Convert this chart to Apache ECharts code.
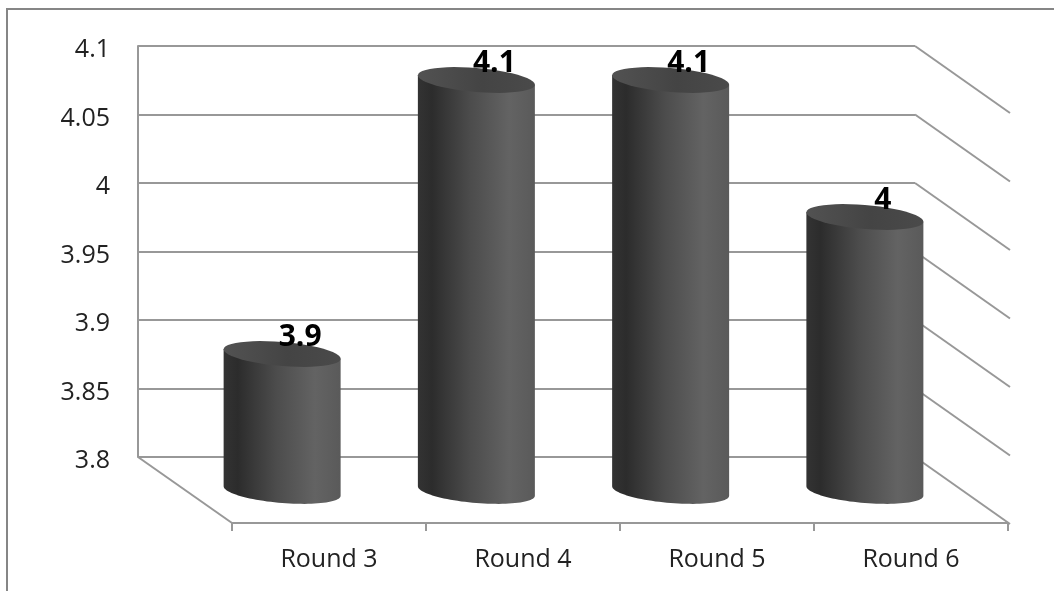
<!DOCTYPE html>
<html>
<head>
<meta charset="utf-8">
<style>html,body{margin:0;padding:0;background:#fff}#c{width:1054px;height:591px}</style>
<script src="https://cdn.jsdelivr.net/npm/echarts@6/dist/echarts.min.js"></script>
</head>
<body>
<div id="c"></div>
<script>
var categories = ['Round 3', 'Round 4', 'Round 5', 'Round 6'];
var values = [3.9, 4.1, 4.1, 4];
var yMin = 3.8, yMax = 4.1, yStep = 0.05;
var yTicks = [3.8, 3.85, 3.9, 3.95, 4, 4.05, 4.1];

var LINE = '#989898', FONT = '"Open Sans", sans-serif';
var DEPTH_X = 95, DEPTH_Y = 67;      // wall depth
var CYL_DX = 47, CYL_DY = 34;        // cylinder sits mid-depth
var RX = 58.5, RY = 12, SHEAR = 0.08;

function ellipsePts(cx, cy, from, to) {
  var pts = [];
  for (var i = 0; i <= 48; i++) {
    var t = from + (to - from) * i / 48;
    var x = RX * Math.cos(t);
    pts.push([cx + x, cy + RY * Math.sin(t) + SHEAR * x]);
  }
  return pts;
}
function grad(stops) {
  return new echarts.graphic.LinearGradient(0, 0, 1, 0, stops.map(function (s) {
    return { offset: s[0], color: s[1] };
  }));
}

var option = {
  animation: false,
  backgroundColor: '#fff',
  textStyle: { fontFamily: FONT },
  graphic: [
    { type: 'line', silent: true, shape: { x1: 7, y1: 9, x2: 1054, y2: 9 }, style: { stroke: '#868686', lineWidth: 2 } },
    { type: 'line', silent: true, shape: { x1: 7, y1: 8, x2: 7, y2: 591 }, style: { stroke: '#868686', lineWidth: 2 } }
  ],
  grid: [
    { left: 138, top: 46, width: 777, height: 411 },
    { left: 232, top: 46, width: 776, height: 477 },
    { left: 138, top: 50, width: 777, height: 411 }
  ],
  xAxis: [
    { type: 'category', gridIndex: 0, data: categories, show: false },
    {
      type: 'category', gridIndex: 1, data: categories,
      axisLine: { show: true, lineStyle: { color: LINE, width: 2 } },
      axisTick: { show: true, length: 8, lineStyle: { color: LINE, width: 2 } },
      axisLabel: { color: '#222', fontSize: 25, fontFamily: FONT, margin: 24 }
    },
    { type: 'category', gridIndex: 2, data: categories, show: false }
  ],
  yAxis: [
    {
      type: 'value', gridIndex: 0, min: yMin, max: yMax, interval: yStep,
      axisLine: { show: true, lineStyle: { color: LINE, width: 2 } },
      axisTick: { show: false },
      axisLabel: { show: false },
      splitLine: { show: true, lineStyle: { color: LINE, width: 2 } }
    },
    { type: 'value', gridIndex: 1, min: 0, max: 1, show: false },
    {
      type: 'value', gridIndex: 2, min: yMin, max: yMax, interval: yStep,
      axisLine: { show: false },
      axisTick: { show: false },
      splitLine: { show: false },
      axisLabel: { color: '#222', fontSize: 25, fontFamily: FONT, margin: 28 }
    }
  ],
  series: [
    {
      // receding wall lines and the floor edges
      type: 'custom', xAxisIndex: 0, yAxisIndex: 0, clip: false, z: 1, silent: true,
      data: yTicks.map(function (v) { return [categories[categories.length - 1], v]; }),
      renderItem: function (params, api) {
        var plot = params.coordSys;
        var y = api.coord([0, api.value(1)])[1];
        var rx = plot.x + plot.width;
        var children = [{
          type: 'line',
          shape: { x1: rx, y1: y, x2: rx + DEPTH_X, y2: y + DEPTH_Y },
          style: { stroke: LINE, lineWidth: 2 }
        }];
        if (params.dataIndex === 0) {
          children.push({
            type: 'line',
            shape: { x1: plot.x, y1: y, x2: plot.x + DEPTH_X - 1, y2: y + DEPTH_Y - 1 },
            style: { stroke: LINE, lineWidth: 2 }
          });
        }
        return { type: 'group', children: children };
      }
    },
    {
      // cylinders and their labels
      type: 'custom', xAxisIndex: 0, yAxisIndex: 0, clip: false, z: 5, silent: true,
      data: values.map(function (v, i) { return [i, v]; }),
      renderItem: function (params, api) {
        var top = api.coord([api.value(0), api.value(1)]);
        var base = api.coord([api.value(0), yMin]);
        var cx = top[0] + CYL_DX;
        var ty = top[1] + CYL_DY;
        var by = base[1] + CYL_DY;
        var body = ellipsePts(cx, by, 0, Math.PI);
        body.push([cx - RX, ty - SHEAR * RX], [cx + RX, ty + SHEAR * RX]);
        return {
          type: 'group',
          children: [
            {
              type: 'polygon', shape: { points: body },
              style: { fill: grad([[0, '#333333'], [0.12, '#2c2c2c'], [0.45, '#4c4c4c'], [0.78, '#636363'], [1, '#5a5a5a']]) }
            },
            {
              type: 'polygon', shape: { points: ellipsePts(cx, ty, 0, Math.PI * 2) },
              style: { fill: grad([[0, '#525252'], [0.55, '#444444'], [1, '#4a4a4a']]) }
            },
            {
              type: 'text', z2: 10,
              style: {
                x: cx + 18, y: top[1] + 17,
                text: String(api.value(1)),
                fill: '#000', font: 'bold 30px ' + FONT,
                align: 'center', verticalAlign: 'middle'
              }
            }
          ]
        };
      }
    }
  ]
};
echarts.init(document.getElementById('c')).setOption(option);
</script>
</body>
</html>
